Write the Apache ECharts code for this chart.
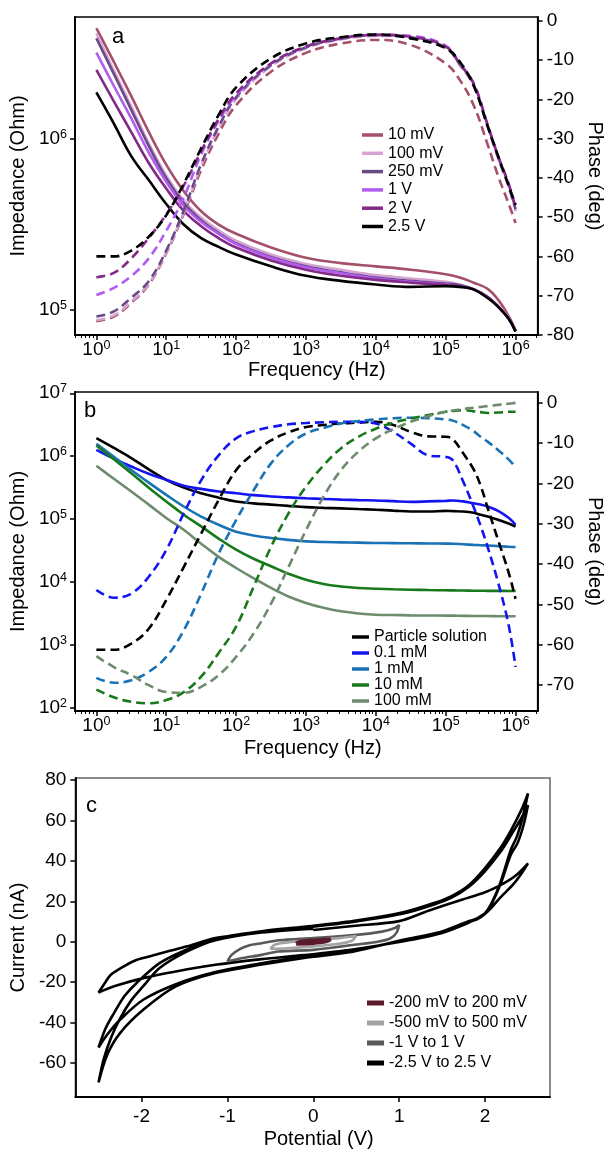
<!DOCTYPE html>
<html><head><meta charset="utf-8">
<script src="https://cdn.jsdelivr.net/npm/echarts@6/dist/echarts.min.js"></script>
<style>html,body{margin:0;padding:0;background:#fff}#chart{width:613px;height:1150px}</style>
</head><body><div id="chart"></div>
<script>
const FONT = "'Liberation Sans', Arial, sans-serif";

// ---------- Panel a: impedance / phase vs frequency at different voltages ----------
const freqA = [1, 1.78, 3.16, 5.62, 10, 17.8, 31.6, 56.2, 100, 316, 1000, 3160, 10000, 31600, 100000, 158000, 251000, 398000, 562000, 794000, 1000000];
const voltLabels = ['10 mV', '100 mV', '250 mV', '1 V', '2 V', '2.5 V'];
const voltColors = ['#a4506a', '#d6a3d3', '#674a87', '#b35cf2', '#832a87', '#000000'];
const impA_10mV  = [4.44e6, 2.82e6, 1.78e6, 1.10e6, 7.08e5, 4.95e5, 3.78e5, 3.16e5, 2.79e5, 2.32e5, 2.02e5, 1.88e5, 1.80e5, 1.72e5, 1.62e5, 1.55e5, 1.445e5, 1.33e5, 1.15e5, 9.23e4, 7.59e4];
const impA_100mV = [4.15e6, 2.51e6, 1.55e6, 9.44e5, 6.10e5, 4.37e5, 3.47e5, 2.92e5, 2.54e5, 2.11e5, 1.86e5, 1.72e5, 1.60e5, 1.53e5, 1.46e5, 1.41e5, 1.33e5, 1.20e5, 1.06e5, 9.02e4, 7.50e4];
const impA_250mV = [3.88e6, 2.40e6, 1.48e6, 9.12e5, 5.89e5, 4.22e5, 3.35e5, 2.82e5, 2.45e5, 2.04e5, 1.80e5, 1.66e5, 1.55e5, 1.48e5, 1.43e5, 1.40e5, 1.32e5, 1.19e5, 1.047e5, 8.91e4, 7.50e4];
const impA_1V    = [3.20e6, 2.04e6, 1.32e6, 8.32e5, 5.62e5, 4.07e5, 3.27e5, 2.79e5, 2.43e5, 2.02e5, 1.78e5, 1.64e5, 1.53e5, 1.46e5, 1.41e5, 1.38e5, 1.32e5, 1.19e5, 1.047e5, 8.91e4, 7.50e4];
const impA_2V    = [2.535e6, 1.66e6, 1.096e6, 7.24e5, 5.13e5, 3.80e5, 3.09e5, 2.63e5, 2.32e5, 1.95e5, 1.72e5, 1.585e5, 1.50e5, 1.445e5, 1.40e5, 1.38e5, 1.32e5, 1.19e5, 1.047e5, 8.91e4, 7.50e4];
const impA_2p5V  = [1.87e6, 1.23e6, 7.94e5, 5.75e5, 4.17e5, 3.16e5, 2.63e5, 2.34e5, 2.11e5, 1.80e5, 1.585e5, 1.48e5, 1.41e5, 1.365e5, 1.38e5, 1.365e5, 1.32e5, 1.175e5, 1.047e5, 8.91e4, 7.50e4];
const phaseA_10mV  = [-76.5, -75.3, -71.8, -67.2, -59.2, -49.2, -38.0, -28.8, -21.5, -13.0, -8.2, -5.8, -4.9, -6.2, -10.9, -15.0, -21.5, -31.5, -39.5, -46.5, -51.5];
const phaseA_100mV = [-76.2, -75.0, -71.5, -67.0, -59.0, -48.8, -37.0, -27.5, -20.0, -11.6, -7.0, -4.8, -3.9, -4.4, -7.0, -11.3, -16.6, -27.0, -35.0, -42.3, -48.5];
const phaseA_250mV = [-75.3, -74.0, -70.5, -66.3, -58.5, -48.3, -36.5, -27.0, -19.5, -11.3, -6.8, -4.6, -3.7, -4.2, -6.8, -11.0, -16.3, -26.8, -34.8, -42.0, -48.0];
const phaseA_1V    = [-69.8, -68.0, -65.0, -60.5, -53.5, -45.0, -34.0, -25.5, -19.0, -10.9, -6.6, -4.5, -3.6, -3.9, -6.4, -10.9, -16.0, -26.5, -34.5, -41.5, -47.7];
const phaseA_2V    = [-65.3, -64.2, -60.5, -55.3, -49.3, -42.0, -33.2, -25.0, -18.5, -10.9, -6.6, -4.5, -3.6, -4.1, -6.6, -10.9, -16.0, -26.5, -34.5, -41.5, -47.7];
const phaseA_2p5V  = [-60.0, -60.0, -58.5, -55.0, -49.5, -41.5, -32.5, -24.0, -17.0, -9.6, -5.8, -4.2, -3.5, -4.5, -7.0, -10.4, -16.5, -26.8, -34.4, -41.9, -46.9];

// ---------- Panel b: impedance / phase vs frequency at different concentrations ----------
const freqB = [1, 1.78, 3.16, 5.62, 10, 17.8, 31.6, 56.2, 100, 178, 316, 562, 1000, 1780, 3160, 5620, 10000, 17800, 31600, 56200, 100000, 126000, 178000, 251000, 316000, 398000, 562000, 794000, 1000000];
const concLabels = ['Particle solution', '0.1 mM', '1 mM', '10 mM', '100 mM'];
const concColors = ['#000000', '#1414f0', '#1a72b6', '#17791a', '#6e8b6e'];
const impB_particle = [1.93e6, 1.35e6, 9.33e5, 6.17e5, 4.21e5, 3.16e5, 2.57e5, 2.19e5, 1.91e5, 1.78e5, 1.70e5, 1.62e5, 1.55e5, 1.51e5, 1.48e5, 1.445e5, 1.41e5, 1.365e5, 1.32e5, 1.32e5, 1.35e5, 1.34e5, 1.32e5, 1.26e5, 1.175e5, 1.10e5, 9.77e4, 8.51e4, 7.59e4];
const impB_01mM = [1.26e6, 9.12e5, 6.85e5, 5.25e5, 4.21e5, 3.39e5, 3.02e5, 2.75e5, 2.57e5, 2.40e5, 2.29e5, 2.21e5, 2.14e5, 2.09e5, 2.04e5, 2.00e5, 1.98e5, 1.93e5, 1.88e5, 1.91e5, 1.95e5, 1.98e5, 1.91e5, 1.78e5, 1.70e5, 1.585e5, 1.35e5, 1.047e5, 8.13e4];
const impB_1mM = [1.57e6, 9.77e5, 6.03e5, 3.80e5, 2.43e5, 1.585e5, 1.096e5, 8.13e4, 6.31e4, 5.50e4, 5.01e4, 4.68e4, 4.43e4, 4.32e4, 4.27e4, 4.22e4, 4.17e4, 4.15e4, 4.12e4, 4.10e4, 4.07e4, 4.06e4, 3.98e4, 3.89e4, 3.85e4, 3.80e4, 3.72e4, 3.63e4, 3.60e4];
const impB_10mM = [1.48e6, 8.91e5, 5.37e5, 3.16e5, 1.91e5, 1.175e5, 7.66e4, 4.90e4, 3.26e4, 2.34e4, 1.78e4, 1.35e4, 1.09e4, 9.33e3, 8.51e3, 8.04e3, 7.83e3, 7.67e3, 7.55e3, 7.45e3, 7.38e3, 7.35e3, 7.31e3, 7.28e3, 7.26e3, 7.24e3, 7.23e3, 7.21e3, 7.19e3];
const impB_100mM = [7.03e5, 4.37e5, 2.75e5, 1.70e5, 1.04e5, 6.76e4, 4.07e4, 2.51e4, 1.67e4, 1.15e4, 8.04e3, 5.89e3, 4.65e3, 3.89e3, 3.42e3, 3.16e3, 3.02e3, 2.99e3, 2.95e3, 2.94e3, 2.92e3, 2.92e3, 2.90e3, 2.89e3, 2.88e3, 2.88e3, 2.86e3, 2.86e3, 2.85e3];
const phaseB_particle = [-61.2, -61.2, -59.7, -56.0, -48.9, -40.7, -32.4, -24.1, -16.7, -12.5, -9.3, -7.3, -6.0, -5.5, -5.1, -4.9, -4.7, -5.5, -7.2, -8.3, -8.4, -9.0, -12.5, -16.5, -20.5, -26.0, -34.0, -42.0, -48.6];
const phaseB_01mM = [-46.4, -48.3, -47.3, -43.1, -36.5, -27.4, -19.2, -13.0, -8.8, -7.0, -6.0, -5.3, -5.0, -4.8, -4.7, -4.7, -5.1, -7.2, -10.1, -13.0, -13.4, -14.2, -19.5, -25.8, -30.5, -35.7, -44.5, -55.0, -65.5];
const phaseB_1mM = [-68.2, -69.4, -68.8, -66.7, -63.0, -56.4, -47.3, -37.4, -29.1, -21.7, -15.0, -10.5, -7.6, -6.2, -5.1, -4.5, -4.1, -3.8, -3.7, -3.8, -4.1, -4.4, -5.5, -7.0, -8.4, -9.6, -11.7, -14.0, -15.9];
const phaseB_10mM = [-71.1, -73.0, -74.1, -74.5, -73.7, -71.7, -67.9, -62.0, -55.5, -45.6, -35.7, -27.4, -20.8, -15.5, -11.3, -8.4, -6.4, -4.9, -3.9, -3.0, -2.2, -2.0, -1.8, -2.1, -2.3, -2.5, -2.4, -2.2, -2.2];
const phaseB_100mM = [-62.8, -65.5, -67.5, -70.0, -71.7, -71.9, -70.4, -67.5, -63.0, -57.2, -49.8, -40.7, -31.6, -23.3, -16.7, -12.1, -8.8, -6.5, -4.7, -3.3, -2.2, -1.9, -1.5, -1.2, -1.0, -0.8, -0.5, -0.2, 0.0];

// ---------- Panel c: cyclic voltammetry, [potential V, current nA] ----------
const cvLabels = ['-200 mV to 200 mV', '-500 mV to 500 mV', '-1 V to 1 V', '-2.5 V to 2.5 V'];
const cvColors = ['#5b1a2c', '#a3a3a3', '#595959', '#000000'];
const cv200mV = [[-0.2,-1.0],[-0.15,0],[0,0.6],[0.2,1.2],[0.15,0.2],[0,-0.6],[-0.2,-1.0]];
const cv500mV = [[-0.5,-3.5],[-0.45,-1.5],[-0.3,-0.3],[0,0.8],[0.3,1.8],[0.5,2.8],[0.45,0.5],[0.3,-1],[0,-2.3],[-0.3,-3.2],[-0.5,-3.5]];
const cv1V = [[-1.0,-9.8],[-0.95,-6.5],[-0.85,-3.5],[-0.75,-1.8],[-0.6,-0.7],[-0.4,0.7],[0,1.8],[0.5,3.4],[0.8,5.0],[0.95,6.8],[1.0,8.3],[0.97,4.5],[0.9,1.75],[0.75,0],[0.48,-1.5],[0,-4.0],[-0.41,-4.85],[-0.6,-6.5],[-0.85,-8.3],[-1.0,-9.8]];
const cv2p5V = [
  [0,5.8],[0.46,7.8],[1.0,10.2],[1.34,15.3],[1.72,20.7],[2.0,24.5],[2.18,28],[2.35,32.5],[2.5,38.8],
  [2.42,33.5],[2.33,28.5],[2.18,22],[2.03,15],[1.9,11.5],[1.8,9.2],[1.49,4.2],[1.035,0.1],[0.46,-3.8],[-0.11,-6.6],[-0.6,-8.6],[-1.14,-11.4],[-1.6,-14.7],[-1.98,-18],[-2.3,-21.8],[-2.5,-25.1],
  [-2.42,-20],[-2.36,-16.4],[-2.2,-12],[-2.06,-9],[-1.85,-6.6],[-1.71,-4.9],[-1.48,-2.4],[-1.14,1.8],[-0.6,4.8],[-0.11,7],[0.46,9.8],[1.035,13.8],[1.417,18.6],[1.61,21.8],[1.8,26.8],[1.99,34.5],[2.18,44.5],[2.3,52.5],[2.42,61],[2.5,67.6],
  [2.45,58],[2.38,49],[2.3,43],[2.18,28.5],[2.08,19],[2.0,13.8],[1.9,11],[1.8,9.6],[1.49,4.6],[1.035,0.5],[0.46,-4.4],[-0.11,-7.4],[-0.6,-10.6],[-1.14,-15],[-1.6,-21],[-1.98,-28.7],[-2.25,-38.6],[-2.4,-46],[-2.5,-52.3],
  [-2.42,-43],[-2.32,-35.3],[-2.2,-27],[-2.06,-20.5],[-1.79,-10.6],[-1.48,-4],[-1.14,1.5],[-0.6,5.2],[-0.11,7.4],[0.46,10.2],[1.035,14.4],[1.417,19.3],[1.61,22.6],[1.8,27.6],[1.99,36],[2.18,46.5],[2.3,55],[2.42,65],[2.5,73.4],
  [2.44,62],[2.37,52],[2.3,45.5],[2.18,29.5],[2.08,19.5],[2.0,14.2],[1.9,11.4],[1.8,10],[1.49,5],[1.035,0.9],[0.46,-4.9],[-0.11,-8],[-0.6,-11.3],[-1.14,-15.5],[-1.6,-22.1],[-1.98,-33.7],[-2.25,-45.2],[-2.4,-56],[-2.5,-69.6],
  [-2.44,-58],[-2.35,-47],[-2.25,-38],[-2.12,-29],[-1.98,-22],[-1.79,-13],[-1.48,-5],[-1.14,0.8],[-0.6,4.6],[0,6.5]
];

// ---------- tick positions ----------
const decadeTicksX = [1, 10, 100, 1000, 10000, 100000, 1000000];
const decadeTicksYA = [1e5, 1e6];
const decadeTicksYB = [1e2, 1e3, 1e4, 1e5, 1e6, 1e7];
function minorLogTicks(lo, hi) {
  const out = [];
  for (let p = Math.floor(Math.log10(lo)); p <= Math.ceil(Math.log10(hi)); p++) {
    for (let m = 2; m <= 9; m++) {
      const v = m * Math.pow(10, p);
      if (v > lo && v < hi) out.push(v);
    }
  }
  return out;
}

// ---------- helpers ----------
function pairs(xs, ys) { return xs.map((x, i) => [x, ys[i]]); }
const powRich = {
  b: { fontSize: 19, lineHeight: 22, fontFamily: FONT, color: '#000' },
  s: { fontSize: 12.5, lineHeight: 13, fontFamily: FONT, color: '#000', verticalAlign: 'top' }
};
function powLabel(v) {
  const e = Math.log10(v);
  const r = Math.round(e);
  if (Math.abs(e - r) > 1e-6) return '';
  return '{b|10}{s|' + r + '}';
}
function stepLabel(step) {
  return function (v) {
    const q = v / step;
    if (Math.abs(q - Math.round(q)) > 1e-6) return '';
    return String(Math.round(v) === 0 ? 0 : Math.round(v));
  };
}
const axLine = { show: true, onZero: false, lineStyle: { color: '#000', width: 1.8 } };
const axTick = (vals) => ({ show: true, length: 5, customValues: vals, lineStyle: { color: '#000', width: 1.5 } });
const nameStyle = (pad) => ({ fontSize: 20, color: '#000', fontFamily: FONT, padding: pad || 0 });
const valLabel = (step, margin, vals) => ({ formatter: stepLabel(step), customValues: vals, fontSize: 19, color: '#000', fontFamily: FONT, margin: margin });
const logLabel = (margin, vals) => ({ formatter: powLabel, customValues: vals, rich: powRich, margin: margin });
function range(a, b, s) { const o = []; for (let v = a; v <= b + 1e-9; v += s) o.push(Math.round(v * 1000) / 1000); return o; }

// extra, label-less axis that only draws the small logarithmic sub-ticks under the frequency axis
function minorXAxis(grid, gridHeight) {
  return { type: 'log', gridIndex: grid, logBase: 10, min: XMIN, max: XMAX, position: 'top', offset: -gridHeight, silent: true,
    splitLine: { show: false }, axisLine: { show: false }, axisLabel: { show: false },
    axisTick: { show: true, inside: true, length: 3, customValues: minorLogTicks(XMIN, XMAX), lineStyle: { color: '#000', width: 1 } } };
}

function lineSeries(name, data, color, xi, yi, dashed, width, smoothV) {
  return {
    name: name, type: 'line', data: data, xAxisIndex: xi, yAxisIndex: yi,
    showSymbol: false, symbol: 'none', smooth: smoothV,
    lineStyle: { color: color, width: width, type: dashed ? [9, 5] : 'solid' },
    itemStyle: { color: color }, emphasis: { disabled: true }, silent: true, z: 3
  };
}

const impA = [impA_10mV, impA_100mV, impA_250mV, impA_1V, impA_2V, impA_2p5V];
const phaseA = [phaseA_10mV, phaseA_100mV, phaseA_250mV, phaseA_1V, phaseA_2V, phaseA_2p5V];
const impB = [impB_particle, impB_01mM, impB_1mM, impB_10mM, impB_100mM];
const phaseB = [phaseB_particle, phaseB_01mM, phaseB_1mM, phaseB_10mM, phaseB_100mM];
const cvData = [cv200mV, cv500mV, cv1V, cv2p5V];

const series = [];
voltLabels.forEach((n, i) => series.push(lineSeries(n, pairs(freqA, impA[i]), voltColors[i], 0, 0, false, 2.6, 0.4)));
voltLabels.forEach((n, i) => series.push(lineSeries(n + ' phase', pairs(freqA, phaseA[i]), voltColors[i], 0, 1, true, 2.6, 0.4)));
concLabels.forEach((n, i) => series.push(lineSeries(n, pairs(freqB, impB[i]), concColors[i], 1, 2, false, 2.6, 0.4)));
concLabels.forEach((n, i) => series.push(lineSeries(n + ' phase', pairs(freqB, phaseB[i]), concColors[i], 1, 3, true, 2.6, 0.4)));
[3, 2, 1, 0].forEach(i => series.push(lineSeries(cvLabels[i], cvData[i], cvColors[i], 2, 4, false, i === 0 ? 4 : 2.6, 0.3)));

const legendBase = { orient: 'vertical', icon: 'rect', selectedMode: false, padding: 0 };
var XMIN = 0.4943, XMAX = 2.07e6;

const option = {
  animation: false,
  backgroundColor: '#fff',
  grid: [
    { left: 68, top: 17, width: 482, height: 318, show: true, borderColor: '#000', borderWidth: 1.5 },
    { left: 68, top: 392, width: 482, height: 319, show: true, borderColor: '#000', borderWidth: 1.5 },
    { left: 68, top: 778, width: 482, height: 319, show: true, borderColor: '#666', borderWidth: 1.5 }
  ],
  xAxis: [
    { type: 'log', gridIndex: 0, logBase: 10, min: XMIN, max: XMAX, position: 'bottom', splitLine: { show: false },
      axisLine: axLine, axisTick: axTick(decadeTicksX), axisLabel: logLabel(4, decadeTicksX),
      name: 'Frequency (Hz)', nameLocation: 'middle', nameGap: 25, nameTextStyle: nameStyle([0, 0, 0, 21]) },
    { type: 'log', gridIndex: 1, logBase: 10, min: XMIN, max: XMAX, position: 'bottom', splitLine: { show: false },
      axisLine: axLine, axisTick: axTick(decadeTicksX), axisLabel: logLabel(4, decadeTicksX),
      name: 'Frequency (Hz)', nameLocation: 'middle', nameGap: 27, nameTextStyle: nameStyle([0, 0, 0, 13]) },
    { type: 'value', gridIndex: 2, min: -2.77, max: 2.756, splitNumber: 5, position: 'bottom', splitLine: { show: false },
      axisLine: axLine, axisTick: axTick(range(-2, 2, 1)), axisLabel: valLabel(1, 10, range(-2, 2, 1)),
      name: 'Potential (V)', nameLocation: 'middle', nameGap: 32, nameTextStyle: nameStyle([0, 0, 0, 12]) },
    minorXAxis(0, 318),
    minorXAxis(1, 319)
  ],
  yAxis: [
    { type: 'log', gridIndex: 0, logBase: 10, min: 7.145e4, max: 5.164e6, position: 'left', splitLine: { show: false },
      axisLine: axLine, axisTick: axTick(decadeTicksYA), axisLabel: logLabel(8, decadeTicksYA),
      name: 'Impedance (Ohm)', nameLocation: 'middle', nameGap: 38, nameTextStyle: nameStyle() },
    { type: 'value', gridIndex: 0, min: -80, max: 0.94, interval: 10, position: 'right', splitLine: { show: false },
      axisLine: axLine, axisTick: axTick(range(-80, 0, 10)), axisLabel: valLabel(10, 9, range(-80, 0, 10)),
      name: 'Phase (deg)', nameLocation: 'middle', nameRotate: -90, nameGap: 47, nameTextStyle: nameStyle() },
    { type: 'log', gridIndex: 1, logBase: 10, min: 89.1, max: 1.047e7, position: 'left', splitLine: { show: false },
      axisLine: axLine, axisTick: axTick(decadeTicksYB), axisLabel: logLabel(8, decadeTicksYB),
      name: 'Impedance (Ohm)', nameLocation: 'middle', nameGap: 38, nameTextStyle: nameStyle() },
    { type: 'value', gridIndex: 1, min: -76.4, max: 2.7, splitNumber: 8, position: 'right', splitLine: { show: false },
      axisLine: axLine, axisTick: axTick(range(-70, 0, 10)), axisLabel: valLabel(10, 9, range(-70, 0, 10)),
      name: 'Phase (deg)', nameLocation: 'middle', nameRotate: -90, nameGap: 47, nameTextStyle: nameStyle() },
    { type: 'value', gridIndex: 2, min: -76.8, max: 81, splitNumber: 8, position: 'left', splitLine: { show: false },
      axisLine: axLine, axisTick: axTick(range(-60, 80, 20)), axisLabel: valLabel(20, 9, range(-60, 80, 20)),
      name: 'Current (nA)', nameLocation: 'middle', nameGap: 35, nameTextStyle: nameStyle() }
  ],
  legend: [
    Object.assign({}, legendBase, { data: voltLabels, left: 362, top: 127, itemWidth: 21, itemHeight: 3.5, itemGap: 2.3,
      textStyle: { fontSize: 16, lineHeight: 16, color: '#000', fontFamily: FONT } }),
    Object.assign({}, legendBase, { data: concLabels, left: 352, top: 629, itemWidth: 17, itemHeight: 3.5, itemGap: 0,
      textStyle: { fontSize: 16, lineHeight: 14.5, color: '#000', fontFamily: FONT } }),
    Object.assign({}, legendBase, { data: cvLabels, left: 367, top: 995, itemWidth: 17, itemHeight: 5, itemGap: 4,
      textStyle: { fontSize: 16, lineHeight: 16, color: '#000', fontFamily: FONT } })
  ],
  graphic: [
    { type: 'text', x: 112, y: 36.5, style: { text: 'a', fontSize: 22, fontFamily: FONT, fill: '#000', verticalAlign: 'middle', align: 'left' } },
    { type: 'text', x: 84, y: 411, style: { text: 'b', fontSize: 22, fontFamily: FONT, fill: '#000', verticalAlign: 'middle', align: 'left' } },
    { type: 'text', x: 86, y: 805.5, style: { text: 'c', fontSize: 22, fontFamily: FONT, fill: '#000', verticalAlign: 'middle', align: 'left' } }
  ],
  series: series
};

const chart = echarts.init(document.getElementById('chart'), null, { renderer: 'canvas', width: 613, height: 1150 });
chart.setOption(option);
</script>
</body></html>
